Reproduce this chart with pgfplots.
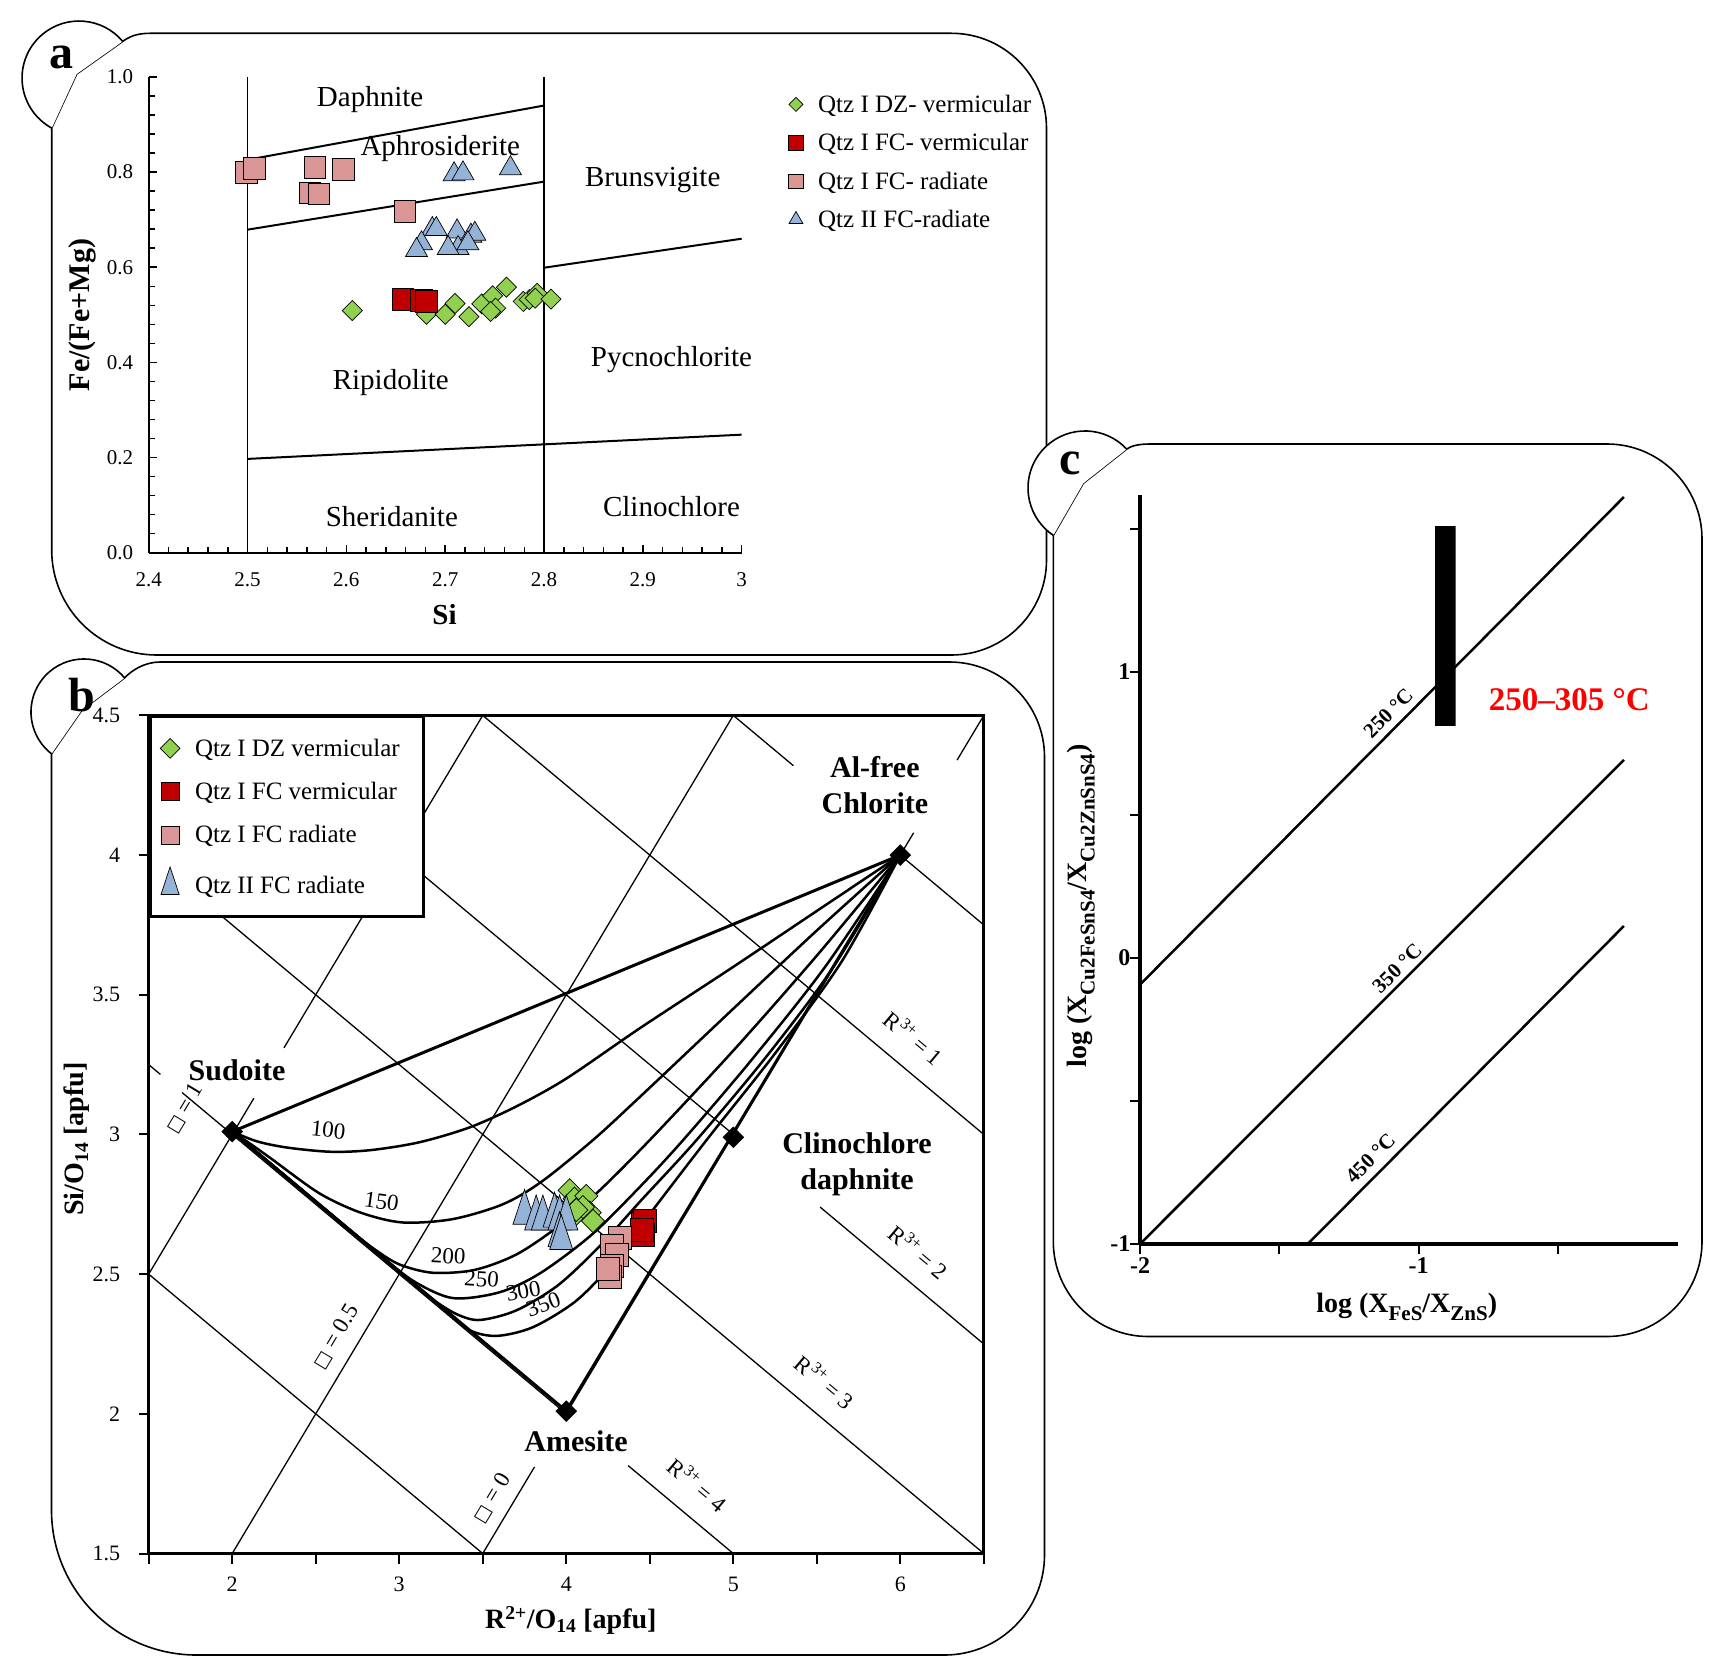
\documentclass[border=0pt]{standalone}
\usepackage{fontspec}
\setmainfont{Liberation Serif}
\newfontfamily\symfont{DejaVu Sans}
\usepackage{pgfplots}
\pgfplotsset{compat=1.18}

\definecolor{qgreen}{HTML}{92D050}
\definecolor{qred}{HTML}{C00000}
\definecolor{qpink}{HTML}{DA9694}
\definecolor{qblue}{HTML}{95B3D7}
\newcommand\fsz[1]{\fontsize{#1}{#1}\selectfont}

\pgfplotsset{every axis/.append style={scale only axis, /pgf/number format/assume math mode=true}}

\begin{document}
\begin{tikzpicture}
\begin{scope}[x=1pt,y=1pt]
\path[use as bounding box] (0,0) rectangle (1721,-1675);

% frames with tabs
\begin{scope}[line width=1.6pt]
\draw (51.7,-550) arc[start angle=180,end angle=270,radius=105] -- (951.5,-655)
  arc[start angle=270,end angle=360,radius=95] -- (1046.5,-128.3)
  arc[start angle=0,end angle=90,radius=95] -- (150,-33.3)
  .. controls (136,-33.3) and (129,-37) .. (122.7,-41.4) -- (76.7,-74) -- (51.7,-128) -- cycle;
\draw (51.5,-1510) arc[start angle=180,end angle=270,radius=145] -- (944.5,-1655)
  arc[start angle=270,end angle=360,radius=100] -- (1044.5,-757)
  arc[start angle=0,end angle=90,radius=95] -- (160,-662)
  .. controls (145,-662) and (132,-670) .. (124.6,-677.9) -- (82,-710) -- (51.5,-753.9) -- cycle;
\draw (1053.3,-1241.5) arc[start angle=180,end angle=270,radius=95] -- (1607,-1336.5)
  arc[start angle=270,end angle=360,radius=95] -- (1702,-539)
  arc[start angle=0,end angle=90,radius=95] -- (1150,-444)
  .. controls (1138,-444) and (1131,-446) .. (1126.7,-449.1) -- (1083.3,-483.3) -- (1053.3,-535.4) -- cycle;
\fill[white] (122.7,-41.4) arc[start angle=40,end angle=241.4,radius=57] -- (76.7,-74) -- cycle;
\draw (122.7,-41.4) arc[start angle=40,end angle=241.4,radius=57];
\fill[white] (124.6,-677.9) arc[start angle=40,end angle=232.2,radius=53] -- (82,-710) -- cycle;
\draw (124.6,-677.9) arc[start angle=40,end angle=232.2,radius=53];
\fill[white] (1126.7,-449.1) arc[start angle=43,end angle=236.2,radius=57] -- (1083.3,-483.3) -- cycle;
\draw (1126.7,-449.1) arc[start angle=43,end angle=236.2,radius=57];
\end{scope}
\node[font=\bfseries\fsz{48}] at (61,-57) {a};
\node[font=\bfseries\fsz{48}] at (82,-695) {b};
\node[font=\bfseries\fsz{48}] at (1070,-463) {c};
\end{scope}

% ================= panel a
\begin{axis}[at={(148.7pt,-552.6pt)}, anchor=south west, width=593pt, height=475.6pt,
  xmin=2.4, xmax=3, ymin=0, ymax=1,
  axis lines=left, axis line style={-, line width=2pt},
  xtick={2.4,2.5,2.6,2.7,2.8,2.9,3}, xticklabels={2.4,2.5,2.6,2.7,2.8,2.9,3},
  ytick={0,0.2,0.4,0.6,0.8,1}, yticklabels={0.0,0.2,0.4,0.6,0.8,1.0},
  minor x tick num=4, minor y tick num=4,
  tick align=inside, major tick length=8pt, minor tick length=6pt,
  tick style={black, line width=1.5pt},
  tick label style={font=\fsz{21}},
  xticklabel style={yshift=-16pt}, yticklabel style={xshift=-12pt},
  clip=false,
  legend style={at={(1.074,0.971)}, anchor=north west, draw=none, fill=none,
    font=\fsz{25}, row sep=15.5pt, column sep=13pt},
  legend cell align=left]
\addplot[black, line width=1.5pt, forget plot] coordinates {(2.5,0) (2.5,1)};
\addplot[black, line width=1.5pt, forget plot] coordinates {(2.8,0) (2.8,1)};
\addplot[black, line width=2pt, forget plot] coordinates {(2.5,0.826) (2.8,0.94)};
\addplot[black, line width=2pt, forget plot] coordinates {(2.5,0.679) (2.8,0.78)};
\addplot[black, line width=2pt, forget plot] coordinates {(2.8,0.599) (3,0.66)};
\addplot[black, line width=2pt, forget plot] coordinates {(2.5,0.197) (3,0.248)};
\begin{scope}[font=\fsz{29}]
\node at (2.624,0.952) {Daphnite};
\node at (2.695,0.850) {Aphrosiderite};
\node at (2.910,0.783) {Brunsvigite};
\node at (2.929,0.405) {Pycnochlorite};
\node at (2.645,0.358) {Ripidolite};
\node at (2.646,0.075) {Sheridanite};
\node at (2.929,0.097) {Clinochlore};
\end{scope}
\addplot[only marks, mark=square*, mark size=7.1pt,
  mark options={rotate=45, fill=qgreen, draw=black, line width=0.7pt},
  legend image post style={mark size=5pt}] coordinates {
  (2.606,0.509) (2.681,0.501) (2.700,0.501) (2.710,0.524) (2.724,0.496)
  (2.737,0.523) (2.748,0.540) (2.751,0.514) (2.746,0.507) (2.762,0.558)
  (2.779,0.528) (2.785,0.532) (2.793,0.545) (2.791,0.535) (2.807,0.533)};
\addlegendentry{Qtz I DZ- vermicular}
\addplot[only marks, mark=square*, mark size=10.8pt,
  mark options={fill=qred, draw=black, line width=0.7pt},
  legend image post style={mark size=7.2pt}] coordinates {
  (2.657,0.533) (2.676,0.530) (2.681,0.528)};
\addlegendentry{Qtz I FC- vermicular}
\addplot[only marks, mark=square*, mark size=10.8pt,
  mark options={fill=qpink, draw=black, line width=0.7pt},
  legend image post style={mark size=7.2pt}] coordinates {
  (2.499,0.799) (2.507,0.808) (2.568,0.810) (2.597,0.806) (2.563,0.756)
  (2.572,0.754) (2.659,0.718)};
\addlegendentry{Qtz I FC- radiate}
\addplot[only marks, mark=triangle*, mark size=12.7pt,
  mark options={fill=qblue, draw=black, line width=0.7pt},
  legend image post style={mark size=8pt}] coordinates {
  (2.709,0.795) (2.718,0.797) (2.766,0.808) (2.687,0.680) (2.691,0.680)
  (2.712,0.675) (2.726,0.666) (2.730,0.670) (2.676,0.650) (2.671,0.636)
  (2.713,0.640) (2.703,0.640) (2.723,0.650)};
\addlegendentry{Qtz II FC-radiate}
\end{axis}

% ================= panel b
\begin{axis}[at={(148.7pt,-1553.5pt)}, anchor=south west, width=835.1pt, height=838.1pt,
  xmin=1.5, xmax=6.5, ymin=1.5, ymax=4.5,
  axis line style={line width=3pt},
  xtick={1.5,2,2.5,3,3.5,4,4.5,5,5.5,6,6.5}, xticklabels={,2,,3,,4,,5,,6,},
  ytick={1.5,2,2.5,3,3.5,4,4.5}, yticklabels={1.5,2,2.5,3,3.5,4,4.5},
  xtick pos=bottom, ytick pos=left, tick align=outside, major tick length=10pt,
  tick style={black, line width=2pt},
  tick label style={font=\fsz{22}},
  xticklabel style={yshift=-10pt}, yticklabel style={xshift=-15pt},
  clip=false,
  legend style={at={(0,1)}, anchor=north west, draw=black, line width=3pt, fill=white,
    font=\fsz{25}, row sep=20.5pt, column sep=13pt, inner xsep=10pt, inner ysep=20pt},
  legend cell align=left]
% thin reference lines
\pgfplotsset{thin ref/.style={black, line width=1.3pt, forget plot}}
\addplot[thin ref] coordinates {(1.5,2.5) (2.13,3.13)};
\addplot[thin ref] coordinates {(2.31,3.31) (3.5,4.5)};
\addplot[thin ref] coordinates {(2,1.5) (5,4.5)};
\addplot[thin ref] coordinates {(3.5,1.5) (3.81,1.81)};
\addplot[thin ref] coordinates {(4,2) (6.08,4.08)};
\addplot[thin ref] coordinates {(6.34,4.34) (6.5,4.5)};
\addplot[thin ref] coordinates {(5,4.5) (5.36,4.32)};
\addplot[thin ref] coordinates {(6,4) (6.5,3.75)};
\addplot[thin ref] coordinates {(3.5,4.5) (6.5,3.0)};
\addplot[thin ref] coordinates {(2,4.5) (5,3)};
\addplot[thin ref] coordinates {(5.52,2.74) (6.5,2.25)};
\addplot[thin ref] coordinates {(1.5,4.0) (6.5,1.5)};
\addplot[thin ref] coordinates {(1.5,3.25) (1.57,3.215)};
\addplot[thin ref] coordinates {(1.70,3.15) (4,2)};
\addplot[thin ref] coordinates {(4.37,1.815) (5,1.5)};
\addplot[thin ref] coordinates {(1.5,2.5) (3.5,1.5)};
% temperature curves
\pgfplotsset{tcurve/.style={black, line width=2.5pt, smooth, forget plot}}
\addplot[tcurve] coordinates {(2.0,3.01) (2.15,2.975) (2.33,2.953) (2.59,2.938) (2.83,2.944)
  (3.12,2.972) (3.42,3.025) (3.7,3.10) (4.0,3.20) (4.44,3.38) (5.0,3.60) (5.5,3.80) (6.0,4.0)};
\addplot[tcurve] coordinates {(2.0,3.01) (2.1,2.97) (2.23,2.915) (2.52,2.79) (2.77,2.72)
  (3.02,2.685) (3.32,2.697) (3.62,2.75) (3.85,2.83) (4.16,2.98) (4.442,3.135) (5.0,3.45)
  (5.5,3.73) (6.0,4.0)};
\addplot[tcurve] coordinates {(2.0,3.01) (2.4,2.81) (2.7,2.66) (2.85,2.59) (3.0,2.535)
  (3.2,2.505) (3.45,2.515) (3.7,2.57) (3.95,2.67) (4.2,2.80) (4.5,2.98) (5.0,3.30)
  (5.5,3.64) (6.0,4.0)};
\addplot[tcurve] coordinates {(2.0,3.01) (2.5,2.76) (2.9,2.56) (3.1,2.47) (3.324,2.414)
  (3.6,2.435) (3.843,2.503) (4.15,2.64) (4.442,2.813) (4.70,2.98) (5.1,3.26) (5.55,3.6)
  (6.0,4.0)};
\addplot[tcurve] coordinates {(2.0,3.01) (2.6,2.71) (3.0,2.51) (3.2,2.41) (3.35,2.355)
  (3.484,2.336) (3.7,2.37) (3.95,2.46) (4.2,2.60) (4.442,2.76) (4.78,2.98) (5.2,3.28)
  (5.6,3.6) (6.0,4.0)};
\addplot[tcurve] coordinates {(2.0,3.01) (2.6,2.71) (3.0,2.51) (3.264,2.378) (3.42,2.30)
  (3.584,2.279) (3.8,2.31) (4.05,2.40) (4.25,2.52) (4.442,2.67) (4.84,2.98) (5.25,3.29)
  (5.65,3.62) (6.0,4.0)};
% thick joins
\addplot[black, line width=3pt, forget plot] coordinates {(2,3.01) (6,4)};
\addplot[black, line width=3pt, forget plot] coordinates {(2,3.01) (4,2.01)};
\addplot[black, line width=3pt, forget plot] coordinates {(4,2.01) (6,4)};
% labels
\begin{scope}[font=\fsz{23}]
\node[rotate=-6] at (2.575,3.016) {100};
\node[rotate=-8] at (2.894,2.76) {150};
\node[rotate=-3] at (3.293,2.565) {200};
\node[rotate=-4] at (3.493,2.483) {250};
\node[rotate=10] at (3.743,2.44) {300};
\node[rotate=20] at (3.863,2.39) {350};
\end{scope}
\begin{scope}[font=\bfseries\fontsize{30}{36}\selectfont, align=center]
\node at (2.029,3.231) {Sudoite};
\node at (4.059,1.903) {Amesite};
\node at (5.848,4.252) {Al-free\\Chlorite};
\node at (5.741,2.892) {Clinochlore\\daphnite};
\end{scope}
\begin{scope}[font=\fsz{23}]
\node[rotate=-40] at (6.085,3.348) {R\textsuperscript{3+} = 1};
\node[rotate=-40] at (6.111,2.582) {R\textsuperscript{3+} = 2};
\node[rotate=-40] at (5.552,2.118) {R\textsuperscript{3+} = 3};
\node[rotate=-40] at (4.789,1.749) {R\textsuperscript{3+} = 4};
\node[rotate=59] at (1.714,3.093) {{\symfont\fsz{18}□} = 1};
\node[rotate=59] at (2.621,2.276) {{\symfont\fsz{18}□} = 0.5};
\node[rotate=59] at (3.554,1.698) {{\symfont\fsz{18}□} = 0};
\end{scope}
\addplot[only marks, mark=square*, mark size=7.4pt, forget plot,
  mark options={rotate=45, fill=black, draw=black}] coordinates {
  (2,3.01) (4,2.01) (5,2.99) (6,4)};
% data
\addplot[only marks, mark=square*, mark size=8.2pt,
  mark options={rotate=45, fill=qgreen, draw=black, line width=0.7pt},
  legend image post style={mark size=7pt}] coordinates {
  (4.02,2.80) (4.05,2.77) (4.09,2.75) (4.12,2.78) (4.05,2.71) (4.14,2.72)
  (4.16,2.69) (4.10,2.74) (4.06,2.73)};
\addlegendentry{Qtz I DZ vermicular\hspace*{12pt}}
\addplot[only marks, mark=square*, mark size=11.5pt,
  mark options={fill=qred, draw=black, line width=0.7pt},
  legend image post style={mark size=9pt}] coordinates {
  (4.46,2.68) (4.47,2.69) (4.46,2.64) (4.45,2.66)};
\addlegendentry{Qtz I FC vermicular}
\addplot[only marks, mark=square*, mark size=11.5pt,
  mark options={fill=qpink, draw=black, line width=0.7pt},
  legend image post style={mark size=9pt}] coordinates {
  (4.32,2.63) (4.27,2.60) (4.30,2.57) (4.27,2.53) (4.26,2.49) (4.25,2.52)};
\addlegendentry{Qtz I FC radiate}
\addplot[only marks, mark=triangle*, mark size=13.3pt,
  mark options={yscale=1.75, fill=qblue, draw=black, line width=0.7pt},
  legend image post style={mark size=10.5pt}] coordinates {
  (3.75,2.72) (3.82,2.70) (3.86,2.70) (3.93,2.71) (3.96,2.70) (4.00,2.70)
  (3.96,2.64) (3.97,2.63)};
\addlegendentry{Qtz II FC radiate}
\end{axis}

% ================= panel c
\begin{axis}[at={(1140pt,-1244pt)}, anchor=south west, width=537.7pt, height=749.3pt,
  xmin=-2, xmax=-0.07, ymin=-1, ymax=1.62,
  axis lines=left, axis line style={-, line width=4pt},
  xtick={-2,-1.5,-1,-0.5}, xticklabels={-2,,-1,},
  ytick={-1,-0.5,0,0.5,1,1.5}, yticklabels={-1,,0,,1,},
  tick align=outside, major tick length=10pt,
  tick style={black, line width=2pt},
  tick label style={font=\bfseries\fsz{24}},
  yticklabel style={xshift=4pt},
  clip=false]
\addplot[black, line width=2.5pt] coordinates {(-2,-0.093) (-0.263,1.612)};
\addplot[black, line width=2.5pt] coordinates {(-2,-1) (-0.263,0.693)};
\addplot[black, line width=2.5pt] coordinates {(-1.398,-1) (-0.263,0.112)};
\addplot[fill=black, draw=none] coordinates {(-0.941,0.812) (-0.867,0.812) (-0.867,1.51) (-0.941,1.51) (-0.941,0.812)};
\begin{scope}[font=\bfseries\fsz{21}]
\node[rotate=45] at (-1.109,0.856) {250 °C};
\node[rotate=45] at (-1.077,-0.037) {350 °C};
\node[rotate=45] at (-1.173,-0.701) {450 °C};
\end{scope}
\node[font=\bfseries\fsz{33}, text=red] at (-0.459,0.902) {250–305 °C};
\end{axis}

\begin{scope}[x=1pt,y=1pt]
\node[font=\bfseries\fsz{30}, rotate=90] at (82.3,-315) {Fe/(Fe+Mg)};
\node[font=\bfseries\fsz{29}] at (444.5,-614.7) {Si};
\node[font=\bfseries\fsz{28}, rotate=90] at (76.8,-1139) {Si/O\textsubscript{14} [apfu]};
\node[font=\bfseries\fsz{28}] at (570.8,-1620) {R\textsuperscript{2+}/O\textsubscript{14} [apfu]};
\node[font=\bfseries\fsz{28}, rotate=90] at (1081,-906)
  {log (X\raisebox{-8pt}{\fsz{21}Cu2FeSnS4}/X\raisebox{-8pt}{\fsz{21}Cu2ZnSnS4})};
\node[font=\bfseries\fsz{28}] at (1406.7,-1306.7)
  {log (X\raisebox{-8pt}{\fsz{21}FeS}/X\raisebox{-8pt}{\fsz{21}ZnS})};
\end{scope}
\end{tikzpicture}
\end{document}
